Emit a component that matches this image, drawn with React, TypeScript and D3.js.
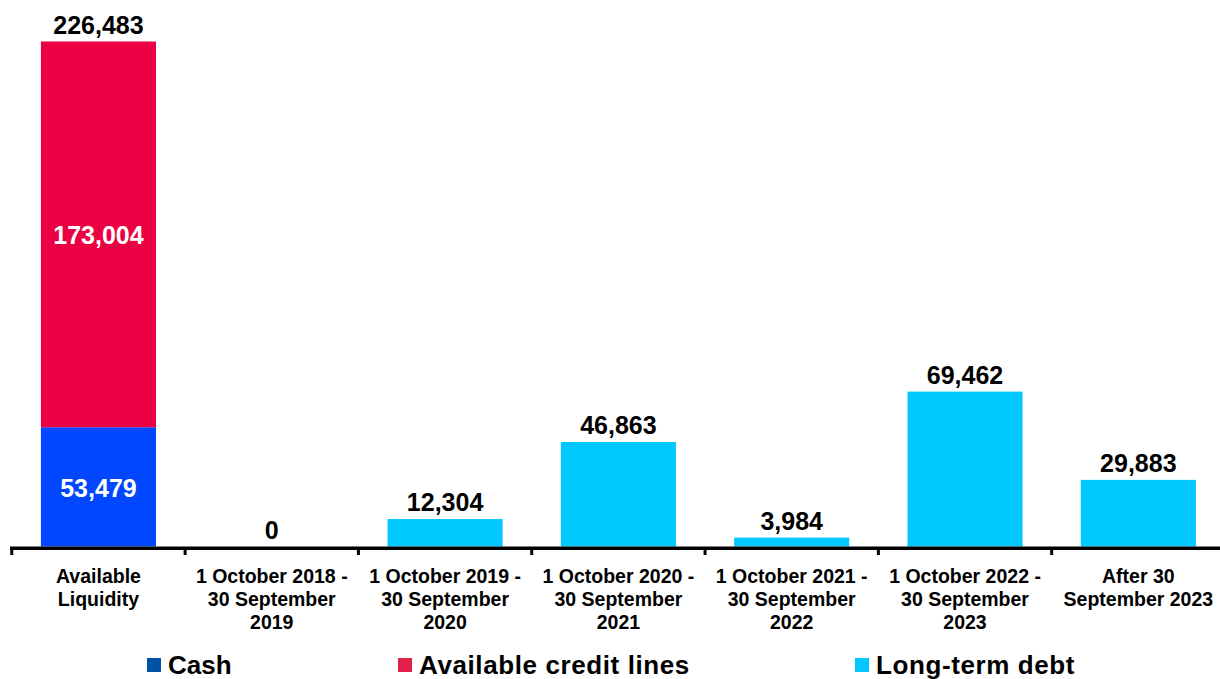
import React from "react";
import * as d3 from "d3";

const categories: string[][] = [
  ["Available", "Liquidity"],
  ["1 October 2018 -", "30 September", "2019"],
  ["1 October 2019 -", "30 September", "2020"],
  ["1 October 2020 -", "30 September", "2021"],
  ["1 October 2021 -", "30 September", "2022"],
  ["1 October 2022 -", "30 September", "2023"],
  ["After 30", "September 2023"],
];
const cashValues = [53479, 0, 0, 0, 0, 0, 0];
const creditValues = [173004, 0, 0, 0, 0, 0, 0];
const debtValues = [0, 0, 12304, 46863, 3984, 69462, 29883];
const totalLabels = ["226,483", "0", "12,304", "46,863", "3,984", "69,462", "29,883"];
const seriesNames = ["Cash", "Available credit lines", "Long-term debt"];

const W = 1220;
const H = 679;
const FONT = "'Liberation Sans', Arial, sans-serif";
const BAR_COLORS = ["#0047FF", "#EC0044", "#00C8FF"];
const LEGEND_COLORS = ["#0052A3", "#E2204A", "#00C8FF"];

export default function App() {
  const idx = categories.map((_, i) => String(i));
  const x = d3.scaleBand<string>().domain(idx).range([11.8, 1225]).paddingInner(0.336).paddingOuter(0.168);
  const y = d3.scaleLinear().domain([0, 226483]).range([546.5, 41.5]);
  const fmt = d3.format(",");

  const rows = categories.map((_, i) => ({
    key: String(i),
    cash: cashValues[i],
    credit: creditValues[i],
    debt: debtValues[i],
  }));
  const stack = d3.stack<any>().keys(["cash", "credit", "debt"]);
  const series = stack(rows);

  const step = x.step();
  const x0 = x.range()[0];
  const boundaries = d3.range(categories.length + 1).map((i) => x0 + i * step);

  const legendX = [147, 398, 855];

  return (
    <svg width={W} height={H} style={{ position: "absolute", left: 0, top: 0, display: "block" }}>
      <rect x={0} y={0} width={W} height={H} fill="#fff" />
      {series.map((s, si) =>
        s.map((d, i) => {
          const h = y(d[0]) - y(d[1]);
          if (h <= 0) return null;
          return (
            <rect
              key={`${si}-${i}`}
              x={x(String(i))}
              y={y(d[1])}
              width={x.bandwidth()}
              height={h}
              fill={BAR_COLORS[si]}
            />
          );
        })
      )}
      {series.slice(0, 2).map((s, si) =>
        s.map((d, i) => {
          const v = d[1] - d[0];
          if (v <= 0) return null;
          return (
            <text
              key={`in-${si}-${i}`}
              x={(x(String(i)) as number) + x.bandwidth() / 2}
              y={(y(d[0]) + y(d[1])) / 2 + 10}
              textAnchor="middle"
              fill="#fff"
              fontFamily={FONT}
              fontWeight="bold"
              fontSize={25}
            >
              {fmt(v)}
            </text>
          );
        })
      )}
      {rows.map((r, i) => {
        const total = r.cash + r.credit + r.debt;
        return (
          <text
            key={`tot-${i}`}
            x={(x(String(i)) as number) + x.bandwidth() / 2}
            y={y(total) - 8}
            textAnchor="middle"
            fill="#000"
            fontFamily={FONT}
            fontWeight="bold"
            fontSize={25}
          >
            {totalLabels[i]}
          </text>
        );
      })}
      <line x1={10} x2={W} y1={548.3} y2={548.3} stroke="#000" strokeWidth={3.5} />
      {boundaries.map((b, i) => (
        <line key={`tk-${i}`} x1={b} x2={b} y1={548} y2={555} stroke="#000" strokeWidth={3} />
      ))}
      {categories.map((lines, i) => (
        <text
          key={`cat-${i}`}
          x={(x(String(i)) as number) + x.bandwidth() / 2}
          textAnchor="middle"
          fill="#000"
          fontFamily={FONT}
          fontWeight="bold"
          fontSize={19.5}
        >
          {lines.map((ln, j) => (
            <tspan key={j} x={(x(String(i)) as number) + x.bandwidth() / 2} y={583 + j * 23}>
              {ln}
            </tspan>
          ))}
        </text>
      ))}
      {seriesNames.map((n, i) => (
        <g key={`lg-${i}`}>
          <rect x={legendX[i]} y={658} width={14} height={14} fill={LEGEND_COLORS[i]} />
          <text
            x={legendX[i] + 21}
            y={673.5}
            fill="#000"
            fontFamily={FONT}
            fontWeight="bold"
            fontSize={26}
            letterSpacing={i === 0 ? 0 : 0.6}
          >
            {n}
          </text>
        </g>
      ))}
    </svg>
  );
}
